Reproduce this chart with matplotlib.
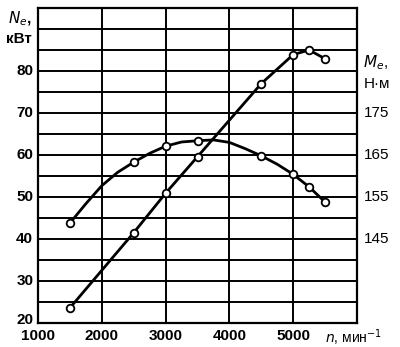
import matplotlib
matplotlib.use("Agg")
import matplotlib.pyplot as plt

# engine speed, rpm -- measured points
n_ne = [1500, 2500, 3000, 3500, 4500, 5000, 5250, 5500]
ne_kw = [23.6, 41.5, 50.9, 59.6, 77.0, 83.9, 85.0, 82.9]

n_me = [1500, 2500, 3000, 3500, 4500, 5000, 5250, 5500]
me_nm = [148.8, 163.3, 167.1, 168.4, 164.8, 160.4, 157.4, 153.8]

# torque curve (smooth line through the points)
n_me_curve = [1500, 1750, 2000, 2250, 2500, 2750, 3000, 3250, 3500, 3750,
              4000, 4250, 4500, 4750, 5000, 5250, 5500]
me_curve = [148.8, 153.4, 157.7, 160.9, 163.3, 165.4, 167.1, 168.1, 168.4, 168.6,
            168.0, 166.5, 164.8, 162.8, 160.4, 157.4, 153.8]

x_ticks = [1000, 2000, 3000, 4000, 5000]
y_ticks = [20, 30, 40, 50, 60, 70, 80]
me_ticks = [145, 155, 165, 175]

plt.rcParams['font.family'] = ['Liberation Sans', 'DejaVu Sans']

fig = plt.figure(figsize=(4.0, 3.47), dpi=100)
ax = fig.add_axes([0.095, 0.069, 0.7975, 0.908])

ax.set_xlim(1000, 6000)
ax.set_ylim(20, 95)
ax.set_xticks(range(1000, 6001, 1000))
ax.set_yticks(range(20, 96, 5))
ax.grid(True, color='black', linewidth=1.4)
ax.tick_params(length=0, labelleft=False, labelbottom=False)
for s in ax.spines.values():
    s.set_linewidth(1.6)

# torque drawn on the power scale: M = N + 105
ax.plot(n_ne, ne_kw, color='black', lw=2, marker='o', ms=5.5,
        mfc='white', mec='black', mew=1.3, zorder=3)
ax.plot(n_me_curve, [m - 105 for m in me_curve], color='black', lw=2, zorder=3)
ax.plot(n_me, [m - 105 for m in me_nm], ls='none', marker='o', ms=5.5,
        mfc='white', mec='black', mew=1.3, zorder=4)

fs = 11
for t in y_ticks:
    yy = t + 0.8 if t == 20 else t
    ax.text(-0.015, yy, str(t), transform=ax.get_yaxis_transform(),
            ha='right', va='center', fontsize=fs, fontweight='bold')
for t in x_ticks:
    ax.text(t, -0.02, str(t), transform=ax.get_xaxis_transform(),
            ha='center', va='top', fontsize=fs, fontweight='bold')
for t in me_ticks:
    ax.text(1.02, t - 105, str(t), transform=ax.get_yaxis_transform(),
            ha='left', va='center', fontsize=fs)

ax.text(5500, -0.015, r'$n$, мин$^{-1}$', transform=ax.get_xaxis_transform(),
        ha='left', va='top', fontsize=10)
ax.text(-0.02, 92.5, r'$N_e$,', transform=ax.get_yaxis_transform(),
        ha='right', va='center', fontsize=fs, fontweight='bold')
ax.text(-0.02, 87.5, 'кВт', transform=ax.get_yaxis_transform(),
        ha='right', va='center', fontsize=fs, fontweight='bold')
ax.text(1.02, 82, r'$M_e$,', transform=ax.get_yaxis_transform(),
        ha='left', va='center', fontsize=fs)
ax.text(1.02, 77, 'Н·м', transform=ax.get_yaxis_transform(),
        ha='left', va='center', fontsize=fs)

fig.savefig('out.png', dpi=100)
